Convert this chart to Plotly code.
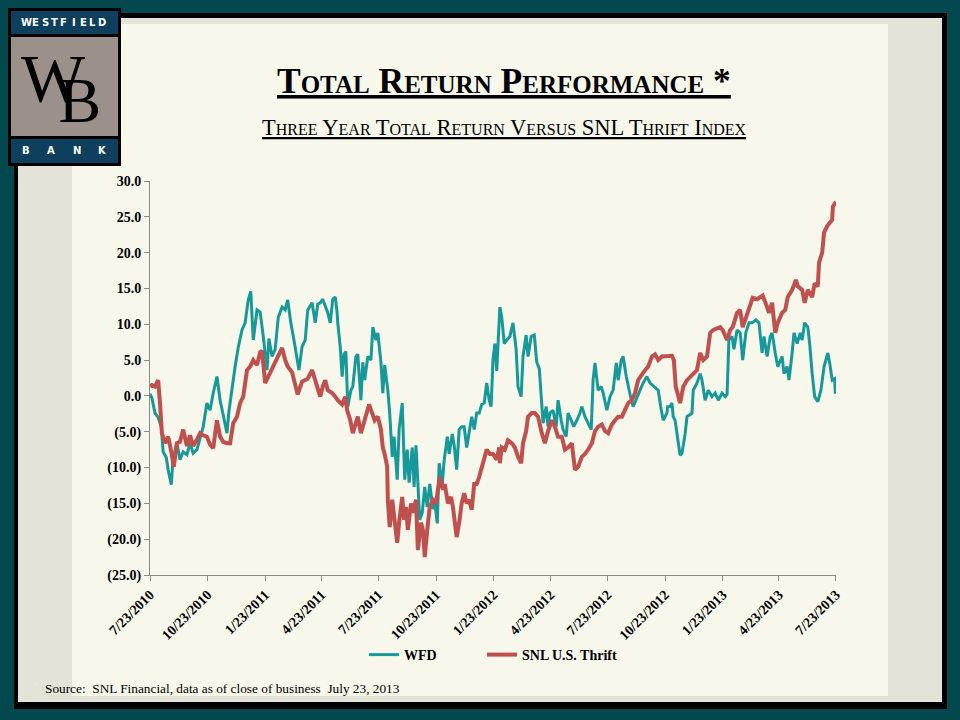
import plotly.graph_objects as go
import pandas as pd

# ---------------- data ----------------
START_DATE = "2010-07-23"

wfd_days = [
    0, 3, 8, 13, 18, 21, 26, 29, 34, 37,
    43, 48, 53, 59, 64, 69, 75, 80, 85, 91,
    96, 101, 107, 112, 117, 123, 126, 131, 136, 141,
    147, 152, 157, 161, 165, 171, 176, 181, 187, 190,
    195, 200, 205, 211, 216, 220, 225, 230, 235, 238,
    243, 248, 252, 259, 264, 268, 272, 276, 284, 288,
    292, 296, 299, 300, 304, 307, 310, 313, 316, 321,
    324, 329, 332, 337, 340, 343, 348, 353, 356, 361,
    364, 369, 372, 375, 380, 383, 387, 390, 395, 398,
    403, 404, 407, 411, 414, 419, 422, 425, 428, 431,
    435, 439, 443, 447, 452, 455, 459, 462, 467, 470,
    475, 478, 483, 486, 490, 494, 498, 502, 506, 510,
    514, 518, 522, 526, 530, 534, 538, 542, 545, 548,
    551, 554, 558, 559, 562, 566, 570, 575, 580, 585,
    588, 593, 596, 601, 604, 609, 614, 618, 622, 626,
    628, 633, 636, 639, 644, 649, 652, 657, 660, 665,
    668, 673, 677, 682, 687, 690, 695, 700, 705, 708,
    711, 716, 721, 724, 730, 735, 740, 745, 748, 753,
    756, 761, 764, 769, 772, 778, 783, 788, 794, 799,
    805, 812, 816, 820, 823, 826, 827, 831, 834, 836,
    839, 843, 847, 850, 855, 858, 866, 868, 874, 879,
    882, 887, 892, 898, 903, 908, 914, 919, 922, 925,
    930, 933, 938, 943, 947, 952, 957, 962, 968, 973,
    978, 981, 986, 991, 994, 999, 1003, 1010, 1013, 1018,
    1021, 1026, 1029, 1034, 1039, 1042, 1046, 1051, 1054, 1058,
    1062, 1067, 1072, 1077, 1083, 1086, 1090, 1094, 1095, 1096,
]
wfd_values = [
    0.3, -0.3, -2.4, -3.0, -4.3, -7.8, -8.6, -10.3, -12.4, -8.6,
    -6.6, -8.9, -7.8, -8.2, -6.6, -8.0, -7.5, -5.9, -4.3, -1.0,
    -2.0, 0.4, 2.7, -0.6, -2.9, -5.2, -2.2, 1.3, 4.1, 6.8,
    9.2, 10.2, 13.4, 14.6, 7.8, 12.0, 11.7, 8.3, 3.6, 8.0,
    5.5, 6.5, 11.0, 12.4, 12.0, 13.4, 10.2, 7.8, 5.0, 3.6,
    6.9, 7.8, 12.0, 13.0, 10.2, 12.8, 13.0, 13.5, 11.6, 10.2,
    13.5, 13.8, 11.6, 10.2, 6.8, 2.7, 5.8, 6.2, -1.5, 0.8,
    1.3, 5.5, 5.8, -0.6, 4.7, 2.2, 5.5, 5.0, 9.6, 7.8,
    8.8, 4.7, 0.4, 4.3, 0.8, -2.4, -8.5, -5.7, -11.7, -4.7,
    -1.0, -3.8, -11.7, -7.5, -12.1, -7.2, -12.7, -6.9, -13.0, -17.3,
    -16.3, -12.7, -15.5, -12.3, -15.8, -14.8, -17.8, -9.4, -12.3, -9.0,
    -5.7, -8.1, -5.3, -6.9, -10.3, -4.7, -4.3, -4.3, -7.2, -4.7,
    -2.9, -4.7, -2.4, -2.4, -1.2, -1.0, 1.8, -0.6, -1.5, 5.0,
    7.3, 3.5, 11.6, 12.4, 11.0, 7.3, 7.8, 8.3, 10.2, 6.5,
    1.3, -0.1, 5.5, 8.5, 5.5, 8.3, 8.5, 4.7, 3.8, -0.6,
    -3.8, -1.5, -4.3, -2.4, -2.0, -4.3, -0.6, -3.4, -4.7, -5.7,
    -2.4, -3.4, -4.3, -3.4, -2.4, -1.5, -2.9, -3.8, -4.7, 2.2,
    4.6, 0.8, 1.3, 0.4, -2.0, -0.1, 0.8, 4.6, 2.2, 5.0,
    5.5, 2.7, 1.3, -0.6, -1.5, -0.1, 0.8, 1.8, 2.7, 1.8,
    1.3, 0.8, -1.5, -3.4, -2.9, -2.4, -1.5, -1.5, -1.0, -2.9,
    -3.4, -5.7, -8.3, -8.0, -5.3, -2.9, -2.4, 0.8, 1.8, 3.1,
    2.2, -0.6, 0.8, -0.1, 0.4, -0.6, 0.4, -0.1, 0.2, 7.8,
    8.3, 6.5, 9.2, 8.8, 5.0, 8.8, 10.2, 10.2, 10.6, 10.2,
    6.0, 8.3, 5.5, 8.3, 8.8, 6.0, 4.1, 5.5, 3.1, 4.1,
    2.2, 6.0, 8.8, 7.3, 8.8, 7.8, 10.2, 9.6, 7.3, 3.1,
    -0.1, -0.8, 0.8, 4.1, 6.0, 4.6, 2.2, 2.4, 0.3, 2.0,
]

snl_days = [
    0, 3, 8, 13, 16, 19, 24, 29, 34, 38,
    43, 48, 53, 59, 64, 69, 75, 80, 85, 91,
    96, 101, 107, 112, 117, 123, 128, 133, 139, 144,
    149, 155, 160, 165, 171, 176, 179, 184, 189, 195,
    200, 205, 211, 216, 220, 227, 232, 236, 243, 248,
    252, 259, 264, 268, 272, 276, 280, 284, 291, 296,
    300, 307, 312, 315, 320, 324, 329, 332, 337, 340,
    347, 350, 355, 359, 364, 369, 372, 375, 379, 380,
    383, 387, 390, 395, 398, 403, 406, 409, 412, 417,
    420, 425, 428, 433, 436, 439, 443, 447, 452, 457,
    460, 463, 468, 471, 476, 481, 484, 490, 494, 498,
    502, 506, 510, 514, 518, 522, 526, 530, 534, 538,
    543, 548, 554, 558, 559, 562, 567, 572, 578, 583,
    588, 593, 596, 601, 604, 610, 615, 620, 626, 631,
    636, 642, 647, 652, 658, 663, 668, 674, 679, 684,
    690, 695, 700, 706, 711, 716, 722, 727, 732, 738,
    743, 748, 754, 759, 764, 770, 775, 780, 786, 791,
    796, 802, 807, 812, 818, 823, 827, 834, 837, 840,
    847, 852, 858, 863, 868, 874, 879, 884, 890, 895,
    900, 906, 911, 915, 922, 927, 931, 938, 943, 947,
    954, 959, 963, 970, 975, 979, 986, 989, 994, 999,
    1003, 1010, 1015, 1019, 1026, 1032, 1035, 1042, 1046, 1051,
    1058, 1062, 1067, 1069, 1074, 1077, 1082, 1085, 1090, 1091,
    1096,
]
snl_values = [
    1.3, 1.5, 1.3, 2.2, -1.0, -5.2, -6.6, -5.7, -7.8, -9.9,
    -6.6, -6.4, -4.7, -7.0, -5.5, -7.0, -6.1, -5.2, -5.5, -5.7,
    -6.8, -7.3, -3.4, -5.7, -6.4, -6.6, -6.6, -3.8, -2.9, -1.0,
    -0.1, 3.6, 4.1, 5.0, 4.3, 6.1, 6.3, 1.8, 2.7, 3.8,
    5.0, 5.8, 6.7, 5.0, 4.1, 3.3, 1.8, 0.2, 2.0, 2.2,
    2.4, 3.6, 2.2, 0.8, -0.1, 1.3, 2.2, 0.8, 0.4, -0.1,
    -0.6, -1.2, -0.1, -2.0, -3.4, -5.2, -3.8, -2.9, -5.2, -4.3,
    -2.0, -1.2, -2.4, -3.4, -2.9, -4.7, -7.2, -8.1, -9.9, -14.5,
    -18.3, -14.5, -16.8, -20.5, -17.7, -14.1, -17.3, -15.5, -18.7, -15.0,
    -16.3, -14.5, -21.5, -17.7, -18.7, -22.5, -18.7, -15.5, -14.5, -15.0,
    -13.1, -11.3, -13.1, -12.3, -15.0, -14.1, -15.5, -19.7, -17.7, -15.0,
    -13.6, -15.0, -14.5, -15.9, -12.3, -12.3, -11.3, -9.9, -8.9, -7.5,
    -8.1, -8.1, -8.9, -7.2, -9.4, -7.2, -7.5, -6.2, -6.6, -7.2,
    -8.5, -9.4, -6.6, -4.9, -2.9, -2.4, -2.4, -2.9, -5.2, -6.6,
    -4.9, -3.4, -4.3, -5.7, -5.7, -7.5, -7.2, -6.6, -10.3, -9.9,
    -8.5, -8.1, -7.5, -6.6, -4.9, -4.3, -4.0, -4.9, -5.2, -4.0,
    -3.4, -2.9, -2.9, -1.9, -1.0, -0.6, 0.4, 2.2, 3.1, 3.6,
    4.1, 5.5, 5.8, 5.0, 5.5, 5.5, 5.5, 5.6, 5.0, 1.3,
    -1.0, 1.3, 2.2, 2.7, 3.1, 3.6, 6.0, 5.0, 5.5, 8.8,
    9.2, 9.4, 9.6, 9.2, 7.8, 9.2, 9.6, 11.6, 12.0, 9.6,
    11.6, 13.0, 13.7, 13.5, 13.7, 14.0, 12.4, 11.6, 13.0, 8.8,
    10.2, 11.6, 12.0, 13.8, 14.8, 16.2, 15.3, 14.8, 13.0, 14.8,
    13.8, 15.7, 15.3, 18.6, 20.0, 22.8, 23.7, 24.1, 24.6, 26.4,
    27.1,
]

series_names = ["WFD", "SNL U.S. Thrift"]

x_tick_dates = ["2010-07-23", "2010-10-23", "2011-01-23", "2011-04-23",
                "2011-07-23", "2011-10-23", "2012-01-23", "2012-04-23",
                "2012-07-23", "2012-10-23", "2013-01-23", "2013-04-23",
                "2013-07-23"]
x_tick_labels = ["7/23/2010", "10/23/2010", "1/23/2011", "4/23/2011",
                 "7/23/2011", "10/23/2011", "1/23/2012", "4/23/2012",
                 "7/23/2012", "10/23/2012", "1/23/2013", "4/23/2013",
                 "7/23/2013"]
y_tick_values = [30, 25, 20, 15, 10, 5, 0, -5, -10, -15, -20, -25]
y_tick_labels = ["30.0", "25.0", "20.0", "15.0", "10.0", "5.0", "0.0",
                 "(5.0)", "(10.0)", "(15.0)", "(20.0)", "(25.0)"]

title_text = "Total Return Performance *"
subtitle_text = "Three Year Total Return Versus SNL Thrift Index"
source_text = "Source:\u00a0 SNL Financial, data as of close of business\u00a0 July 23, 2013"

assert len(wfd_days) == len(wfd_values)
assert len(snl_days) == len(snl_values)

start = pd.Timestamp(START_DATE)
wfd_dates = [start + pd.Timedelta(days=d) for d in wfd_days]
snl_dates = [start + pd.Timedelta(days=d) for d in snl_days]

# ---------------- style ----------------
W, H = 960, 720
L, R, T, B = 150, 124, 181, 145
PW = W - L - R
PH = H - T - B

def px(x):
    return (x - L) / PW

def py(y):
    return (T + PH - y) / PH

SERIF = "Liberation Serif"
TEAL = "#17999a"
RED = "#c0504d"
BG = "#03474f"
GREY_BAND = "#e3e3d8"
CREAM = "#f7f7eb"
LOGO_BLUE = "#0e3f5c"
LOGO_GREY = "#9b918a"
AXIS_GREY = "#8a8a8a"

fig = go.Figure()
fig.add_trace(go.Scatter(x=wfd_dates, y=wfd_values, mode="lines", name=series_names[0],
                         line=dict(color=TEAL, width=3), hoverinfo="skip",
                         legend="legend"))
fig.add_trace(go.Scatter(x=snl_dates, y=snl_values, mode="lines", name=series_names[1],
                         line=dict(color=RED, width=4), hoverinfo="skip",
                         legend="legend2"))

shapes = []
def rect(x0, y0, x1, y1, color):
    shapes.append(dict(type="rect", xref="paper", yref="paper",
                       x0=px(x0), x1=px(x1), y0=py(y1), y1=py(y0),
                       fillcolor=color, line=dict(width=0), layer="below"))

rect(14, 13, 947, 709, "#000000")
rect(18, 18, 942, 702, GREY_BAND)
rect(72, 24, 888, 696, CREAM)
# logo
rect(8, 8, 121, 166, "#000000")
rect(11, 11, 118, 34, LOGO_BLUE)
rect(11, 37, 118, 136, LOGO_GREY)
rect(11, 139, 118, 163, LOGO_BLUE)

annotations = []
def text(x, y, s, size, color="#000000", xanchor="center", weight="normal",
         variant="normal", family=SERIF, yanchor="middle", align="center"):
    annotations.append(dict(xref="paper", yref="paper", x=px(x), y=py(y), text=s,
                            showarrow=False, xanchor=xanchor, yanchor=yanchor,
                            align=align,
                            font=dict(family=family, size=size, color=color,
                                      weight=weight, variant=variant)))

text(504, 81, "<u>" + title_text + "</u>", 35.5, weight="bold", variant="small-caps")
text(504, 127.5, "<u>" + subtitle_text + "</u>", 22.5, variant="small-caps")
text(43, 688, source_text, 13.3, xanchor="left")
text(36, 685, "*", 9, color="#efeec8")

# logo lettering
for i, ch in enumerate("WESTFIELD"):
    text(26 + i * 9.5, 22.5, ch, 10, color="#ffffff", family="DejaVu Sans", weight="bold")
for xc, ch in zip([26, 51, 77, 102], "BANK"):
    text(xc, 150, ch, 10, color="#ffffff", family="DejaVu Sans", weight="bold")
# monogram: W over an offset B, as one two-line text
monogram = ("<span style='font-size:68px'>W</span><br>"
            "<span style='font-size:50px'>\u00a0\u00a0\u00a0</span>"
            "<span style='font-size:64px'>B</span>")
text(19, 38, monogram, 16, xanchor="left", yanchor="top", align="left")

tick_font = dict(family=SERIF, size=14, color="#000000", weight="bold")
legend_font = dict(family=SERIF, size=14, color="#000000", weight="bold")

fig.update_layout(
    width=W, height=H,
    margin=dict(l=L, r=R, t=T, b=B, pad=0),
    paper_bgcolor=BG,
    plot_bgcolor="rgba(0,0,0,0)",
    shapes=shapes,
    annotations=annotations,
    showlegend=True,
    legend=dict(orientation="h", x=px(364), y=py(655), xanchor="left", yanchor="middle",
                font=legend_font, bgcolor="rgba(0,0,0,0)",
                itemclick=False, itemdoubleclick=False),
    legend2=dict(orientation="h", x=px(482), y=py(655), xanchor="left", yanchor="middle",
                 font=legend_font, bgcolor="rgba(0,0,0,0)",
                 itemclick=False, itemdoubleclick=False),
    xaxis=dict(type="date", range=["2010-07-23", "2013-07-23 02:00"],
               tickmode="array", tickvals=x_tick_dates, ticktext=x_tick_labels,
               tickangle=-45, tickfont=tick_font, showgrid=False, zeroline=False,
               showline=True, linecolor=AXIS_GREY, linewidth=1,
               ticks="outside", ticklen=5, tickcolor=AXIS_GREY, fixedrange=True),
    yaxis=dict(range=[-25, 30], tickmode="array", tickvals=y_tick_values,
               ticktext=y_tick_labels, tickfont=tick_font, showgrid=False,
               zeroline=False, showline=True, linecolor=AXIS_GREY, linewidth=1,
               ticks="outside", ticklen=5, tickcolor=AXIS_GREY, fixedrange=True),
    hovermode=False,
)

fig.write_html("out.html", config={"displayModeBar": False},
               post_script="document.body.style.margin='0';document.body.style.overflow='hidden';")
